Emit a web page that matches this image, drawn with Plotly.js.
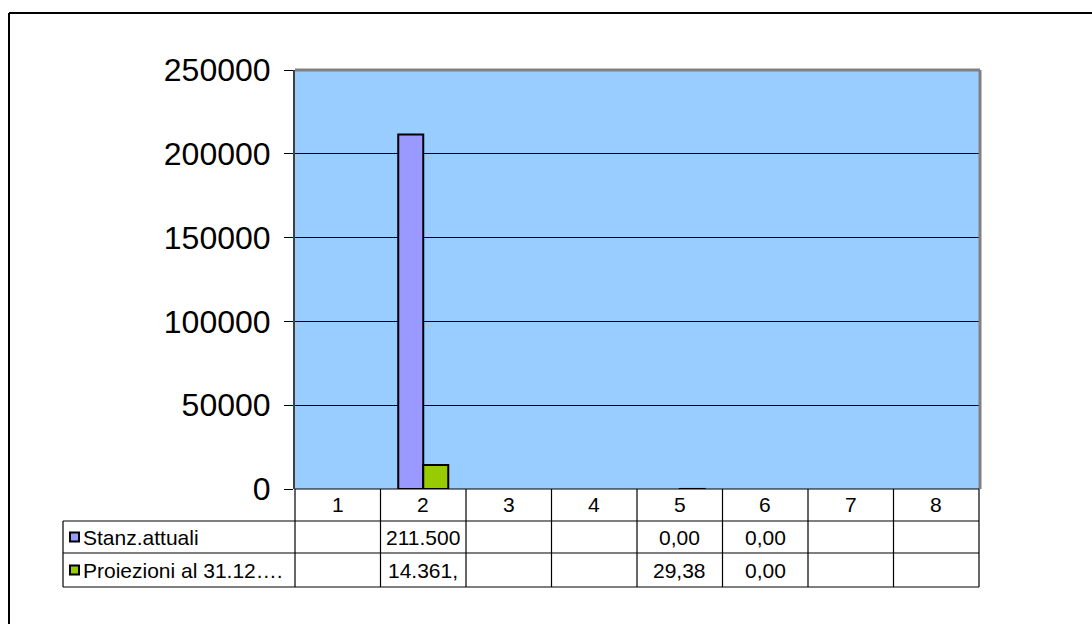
<!DOCTYPE html>
<html>
<head>
<meta charset="utf-8">
<script src="https://cdn.plot.ly/plotly-3.0.1.min.js"></script>
<style>html,body{margin:0;padding:0;background:#fff;overflow:hidden;}#chart{width:1092px;height:624px;}</style>
</head>
<body>
<div id="chart"></div>
<script>
const categories = ['1','2','3','4','5','6','7','8'];
const seriesNames = ['Stanz.attuali', 'Proiezioni al 31.12….'];
const stanzAttuali = [null, 211500, null, null, 0, 0, null, null];
const proiezioni = [null, 14361, null, null, 29.38, 0, null, null];
const stanzLabels = ['', '211.500', '', '', '0,00', '0,00', '', ''];
const proiezioniLabels = ['', '14.361,', '', '', '29,38', '0,00', '', ''];
const colors = ['#9999ff', '#99cc00'];

// geometry in pixels
const L = 295, R = 979, T = 70, B = 489, W = 1092, H = 624;
const px = x => (x - L) / (R - L);
const py = y => (B - y) / (B - T);
const rowY = [489, 521, 553, 587];
const labelLeft = 63;
const FONT = 'Liberation Sans, Arial, sans-serif';

const xs = categories.map((c, i) => i + 1);
const lw = vals => vals.map(v => (v === 0 ? 0 : 2));

const traces = [
  {type: 'bar', x: xs, y: stanzAttuali, name: seriesNames[0], marker: {color: colors[0], line: {color: '#000', width: lw(stanzAttuali)}}, showlegend: false, hoverinfo: 'skip'},
  {type: 'bar', x: xs, y: proiezioni, name: seriesNames[1], marker: {color: colors[1], line: {color: '#000', width: lw(proiezioni)}}, showlegend: false, hoverinfo: 'skip'}
];

const shapes = [];
const line = (x0, y0, x1, y1, color, width) => shapes.push({type: 'line', xref: 'paper', yref: 'paper', x0: px(x0), y0: py(y0), x1: px(x1), y1: py(y1), line: {color: color || '#000', width: width || 1}});

// outer frame (left and top edges visible)
line(9, 13, 1100, 13, '#000', 2);
line(9, 13, 9, 640, '#000', 2);
// plot border top/right
line(L, T, R + 1, T, '#808080', 3);
line(R + 1, T, R + 1, B, '#808080', 3);

// table lines
const n = categories.length;
const colW = (R - L) / n;
line(L, rowY[0], R, rowY[0], '#000', 1.2);
for (let r = 1; r < rowY.length; r++) line(labelLeft, rowY[r], R, rowY[r], '#000', 1.2);
for (let i = 0; i <= n; i++) {
  const x = L + i * colW;
  line(x, rowY[0], x, rowY[3], '#000', 1.2);
}
line(labelLeft, rowY[1], labelLeft, rowY[3], '#000', 1.2);

const annotations = [];
const TF = 21;
// header numbers
categories.forEach((c, i) => annotations.push({xref: 'x', yref: 'paper', x: xs[i], y: py((rowY[0] + rowY[1]) / 2), text: c, showarrow: false, font: {family: FONT, size: TF, color: '#000'}, xanchor: 'center', yanchor: 'middle'}));
const rowsLabels = [stanzLabels, proiezioniLabels];
rowsLabels.forEach((labels, r) => {
  const yc = (rowY[r + 1] + rowY[r + 2]) / 2;
  labels.forEach((t, i) => { if (t) annotations.push({xref: 'x', yref: 'paper', x: xs[i], y: py(yc), text: t, showarrow: false, font: {family: FONT, size: TF, color: '#000'}, xanchor: 'center', yanchor: 'middle'}); });
  annotations.push({xref: 'paper', yref: 'paper', x: px(81), y: py(yc), text: seriesNames[r], showarrow: false, font: {family: FONT, size: TF, color: '#000'}, xanchor: 'left', yanchor: 'middle'});
  shapes.push({type: 'rect', xref: 'paper', yref: 'paper', x0: px(70), x1: px(79), y0: py(yc - 4.5), y1: py(yc + 4.5), fillcolor: colors[r], line: {color: '#000', width: 2}});
});

const layout = {
  width: W, height: H,
  margin: {l: L, r: W - R, t: T, b: H - B, pad: 0},
  paper_bgcolor: '#fff', plot_bgcolor: '#99ccff',
  barmode: 'group', bargap: 0.415, bargroupgap: 0,
  showlegend: false,
  xaxis: {range: [0.5, 8.5], showticklabels: false, ticks: '', showgrid: false, zeroline: false, showline: false, fixedrange: true},
  yaxis: {range: [0, 250000], dtick: 50000, tickformat: 'd', showgrid: true, gridcolor: '#000', gridwidth: 1, zeroline: false,
          ticks: 'outside', ticklen: 9, tickcolor: '#000', tickwidth: 1, showline: true, linecolor: '#404040', linewidth: 2,
          ticklabelstandoff: 7, tickfont: {family: FONT, size: 32, color: '#000'}, fixedrange: true},
  shapes: shapes,
  annotations: annotations,
  font: {family: FONT}
};

Plotly.newPlot('chart', traces, layout, {displayModeBar: false, staticPlot: true});
</script>
</body>
</html>
